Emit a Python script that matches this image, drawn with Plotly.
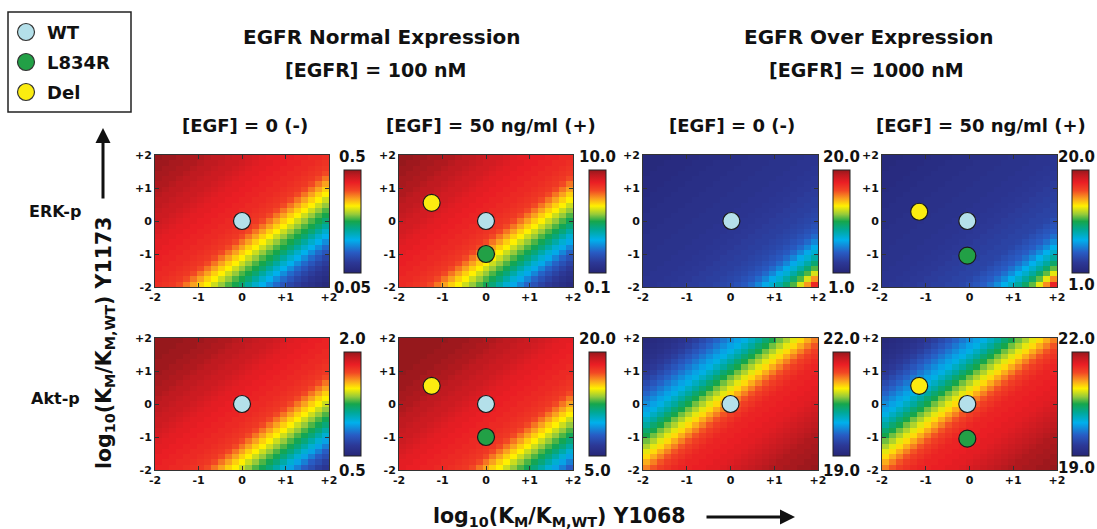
import plotly.graph_objects as go

W, H = 1097, 529
FONT = "DejaVu Sans, Liberation Sans, Arial, sans-serif"

# ---------------- data ----------------
# cell centres of the 25 x 25 parameter grid (log10 KM ratio)
GRID = [-1.92, -1.76, -1.60, -1.44, -1.28, -1.12, -0.96, -0.80, -0.64, -0.48, -0.32, -0.16,
        0.00, 0.16, 0.32, 0.48, 0.64, 0.80, 0.96, 1.12, 1.28, 1.44, 1.60, 1.76, 1.92]
TICK_VALS = [-2, -1, 0, 1, 2]
TICK_TEXT = ["-2", "-1", "0", "+1", "+2"]

# colour level (fraction of colour bar) along the 49 diagonals, from the
# top-left corner (Y1068 low / Y1173 high) to the bottom-right corner
ERK_NORMAL_NOEGF = [1.00, 0.99, 0.99, 0.98, 0.98, 0.97, 0.97, 0.96, 0.95, 0.95, 0.94, 0.93, 0.93,
                    0.92, 0.91, 0.90, 0.89, 0.89, 0.88, 0.88, 0.87, 0.87, 0.86, 0.86, 0.85, 0.84,
                    0.83, 0.80, 0.76, 0.72, 0.68, 0.65, 0.61, 0.57, 0.53, 0.50, 0.46, 0.41, 0.36,
                    0.32, 0.27, 0.22, 0.18, 0.14, 0.11, 0.08, 0.06, 0.04, 0.02]
ERK_NORMAL_EGF = [1.00, 1.00, 0.99, 0.99, 0.98, 0.98, 0.97, 0.97, 0.96, 0.95, 0.95, 0.94, 0.93,
                  0.92, 0.92, 0.91, 0.90, 0.89, 0.89, 0.88, 0.88, 0.87, 0.87, 0.86, 0.86, 0.85,
                  0.84, 0.83, 0.80, 0.76, 0.72, 0.68, 0.65, 0.61, 0.57, 0.53, 0.49, 0.45, 0.40,
                  0.35, 0.31, 0.26, 0.21, 0.17, 0.13, 0.10, 0.07, 0.05, 0.03]
ERK_OVER_NOEGF = [0.02, 0.02, 0.02, 0.02, 0.03, 0.03, 0.03, 0.03, 0.04, 0.04, 0.04, 0.05, 0.05,
                  0.05, 0.05, 0.06, 0.06, 0.06, 0.06, 0.07, 0.07, 0.07, 0.07, 0.08, 0.08, 0.08,
                  0.09, 0.09, 0.10, 0.10, 0.11, 0.11, 0.12, 0.12, 0.13, 0.14, 0.15, 0.17, 0.19,
                  0.22, 0.26, 0.31, 0.35, 0.40, 0.46, 0.53, 0.62, 0.73, 0.86]
ERK_OVER_EGF = [0.02, 0.02, 0.02, 0.03, 0.03, 0.03, 0.03, 0.04, 0.04, 0.04, 0.05, 0.05, 0.05,
                0.05, 0.06, 0.06, 0.06, 0.06, 0.07, 0.07, 0.07, 0.07, 0.08, 0.08, 0.08, 0.09,
                0.09, 0.10, 0.10, 0.11, 0.11, 0.12, 0.12, 0.13, 0.13, 0.14, 0.16, 0.18, 0.20,
                0.23, 0.27, 0.32, 0.36, 0.41, 0.47, 0.54, 0.63, 0.74, 0.87]
AKT_NORMAL_NOEGF = [1.00, 1.00, 1.00, 1.00, 0.99, 0.99, 0.99, 0.98, 0.98, 0.97, 0.97, 0.96, 0.95,
                    0.95, 0.94, 0.93, 0.93, 0.92, 0.91, 0.90, 0.89, 0.89, 0.88, 0.88, 0.87, 0.87,
                    0.86, 0.86, 0.85, 0.84, 0.83, 0.80, 0.76, 0.72, 0.68, 0.65, 0.61, 0.57, 0.53,
                    0.49, 0.45, 0.40, 0.35, 0.30, 0.25, 0.20, 0.16, 0.12, 0.09]
AKT_NORMAL_EGF = [1.00, 1.00, 1.00, 1.00, 1.00, 1.00, 1.00, 0.99, 0.99, 0.99, 0.98, 0.98, 0.97,
                  0.97, 0.96, 0.95, 0.95, 0.94, 0.93, 0.93, 0.92, 0.91, 0.90, 0.89, 0.89, 0.88,
                  0.88, 0.87, 0.87, 0.86, 0.86, 0.85, 0.84, 0.83, 0.80, 0.76, 0.72, 0.68, 0.65,
                  0.61, 0.57, 0.53, 0.49, 0.45, 0.40, 0.35, 0.30, 0.25, 0.20]
AKT_OVER_NOEGF = [0.02, 0.03, 0.04, 0.05, 0.06, 0.08, 0.10, 0.12, 0.15, 0.18, 0.21, 0.24, 0.27,
                  0.30, 0.33, 0.37, 0.41, 0.46, 0.50, 0.55, 0.59, 0.63, 0.67, 0.71, 0.75, 0.79,
                  0.82, 0.84, 0.86, 0.87, 0.87, 0.88, 0.88, 0.89, 0.89, 0.90, 0.91, 0.92, 0.93,
                  0.94, 0.95, 0.96, 0.97, 0.97, 0.98, 0.98, 0.99, 0.99, 1.00]
AKT_OVER_EGF = [0.02, 0.03, 0.04, 0.05, 0.06, 0.08, 0.10, 0.12, 0.15, 0.18, 0.21, 0.24, 0.27,
                0.30, 0.33, 0.37, 0.41, 0.46, 0.50, 0.55, 0.59, 0.63, 0.67, 0.71, 0.75, 0.79,
                0.82, 0.84, 0.86, 0.87, 0.87, 0.88, 0.88, 0.89, 0.89, 0.90, 0.91, 0.92, 0.93,
                0.94, 0.95, 0.96, 0.97, 0.97, 0.98, 0.98, 0.99, 0.99, 1.00]

# colour-bar limits (value at bottom, value at top) and their labels
SCALE_LO = [0.05, 0.1, 1.0, 1.0, 0.5, 5.0, 19.0, 19.0]
SCALE_HI = [0.5, 10.0, 20.0, 20.0, 2.0, 20.0, 22.0, 22.0]
LABEL_LO = ["0.05", "0.1", "1.0", "1.0", "0.5", "5.0", "19.0", "19.0"]
LABEL_HI = ["0.5", "10.0", "20.0", "20.0", "2.0", "20.0", "22.0", "22.0"]

# EGFR variants: (Y1068 ratio, Y1173 ratio) per panel
VARIANTS = ["WT", "L834R", "Del"]
VARIANT_COLORS = {"WT": "#b4e0ea", "L834R": "#22a046", "Del": "#fbec10"}
POINTS = [
    {"WT": (0.0, 0.0)},
    {"Del": (-1.25, 0.55), "WT": (0.0, 0.0), "L834R": (0.0, -1.0)},
    {"WT": (0.02, 0.0)},
    {"Del": (-1.15, 0.28), "WT": (-0.05, 0.0), "L834R": (-0.05, -1.05)},
    {"WT": (0.0, 0.0)},
    {"Del": (-1.25, 0.55), "WT": (0.0, 0.0), "L834R": (0.0, -1.0)},
    {"WT": (0.0, 0.0)},
    {"Del": (-1.15, 0.55), "WT": (-0.05, 0.0), "L834R": (-0.05, -1.05)},
]
PROFILES = [ERK_NORMAL_NOEGF, ERK_NORMAL_EGF, ERK_OVER_NOEGF, ERK_OVER_EGF,
            AKT_NORMAL_NOEGF, AKT_NORMAL_EGF, AKT_OVER_NOEGF, AKT_OVER_EGF]

# ---------------- styling / geometry (pixels) ----------------
CS = [[0.00, "rgb(38,38,118)"], [0.10, "rgb(44,56,150)"], [0.20, "rgb(40,92,196)"],
      [0.32, "rgb(0,176,236)"], [0.42, "rgb(0,168,150)"], [0.50, "rgb(22,166,76)"],
      [0.57, "rgb(150,202,58)"], [0.65, "rgb(255,240,0)"], [0.72, "rgb(250,162,30)"],
      [0.80, "rgb(242,72,36)"], [0.88, "rgb(234,30,36)"], [0.95, "rgb(192,26,32)"],
      [1.00, "rgb(150,24,28)"]]
PANEL_X = [(155, 329), (399, 573), (643, 818), (882, 1057)]
ROW_Y = [(155, 287), (338, 470)]
CBAR_X = [344, 589, 833, 1072]
CBAR_Y = [(170, 273), (352, 456)]


def px(x):
    return x / W


def py(y):
    return 1 - y / H


fig = go.Figure()
layout = {}
annotations = []
shapes = []


def text(x, y, s, size, anchor="center", angle=0):
    annotations.append(dict(x=px(x), y=py(y), xref="paper", yref="paper", text=s,
                            showarrow=False, xanchor=anchor, yanchor="middle", textangle=angle,
                            font=dict(size=size, family=FONT, color="#111", weight="bold")))


for i in range(8):
    r, c = divmod(i, 4)
    n = i + 1
    xa = "x" if n == 1 else f"x{n}"
    ya = "y" if n == 1 else f"y{n}"
    lo, hi = SCALE_LO[i], SCALE_HI[i]
    prof = PROFILES[i]
    z = [[lo + (hi - lo) * prof[ci - ri + 24] for ci in range(25)] for ri in range(25)]
    fig.add_trace(go.Heatmap(
        x=GRID, y=GRID, z=z, zmin=lo, zmax=hi, colorscale=CS, zsmooth=False,
        xaxis=xa, yaxis=ya, hoverinfo="skip",
        colorbar=dict(x=px(CBAR_X[c]), xanchor="left", xpad=0, ypad=0,
                      y=py(CBAR_Y[r][0]), yanchor="top",
                      len=CBAR_Y[r][1] - CBAR_Y[r][0], lenmode="pixels",
                      thickness=17, thicknessmode="pixels",
                      outlinewidth=1, outlinecolor="#222",
                      showticklabels=False, ticks="")))
    for v in ["Del", "WT", "L834R"]:
        if v in POINTS[i]:
            vx, vy = POINTS[i][v]
            fig.add_trace(go.Scatter(
                x=[vx], y=[vy], mode="markers", xaxis=xa, yaxis=ya, showlegend=False,
                hoverinfo="skip",
                marker=dict(size=17, color=VARIANT_COLORS[v],
                            line=dict(width=1.2, color="#1a1a1a"))))
    ax_common = dict(range=[-2, 2], tickvals=TICK_VALS, ticktext=TICK_TEXT, ticks="inside",
                     ticklen=4, tickcolor="#333", showline=True, mirror="ticks",
                     linecolor="#333", linewidth=1, showgrid=False, zeroline=False,
                     fixedrange=True,
                     tickfont=dict(size=11, family=FONT, color="#111", weight="bold"))
    x0, x1 = PANEL_X[c]
    y0, y1 = ROW_Y[r]
    layout["xaxis" if n == 1 else f"xaxis{n}"] = dict(domain=[px(x0), px(x1)], anchor=ya, **ax_common)
    layout["yaxis" if n == 1 else f"yaxis{n}"] = dict(domain=[py(y1), py(y0)], anchor=xa, **ax_common)
    if c == 3:
        cx, anc, dy = 1097, "right", -3
    else:
        cx, anc, dy = CBAR_X[c] + 8.5, "center", 0
    text(cx, CBAR_Y[r][0] - 13, LABEL_HI[i], 15, anchor=anc)
    text(cx, CBAR_Y[r][1] + 15 + dy, LABEL_LO[i], 15, anchor=anc)


# titles
text(382, 37, "EGFR Normal Expression", 20)
text(375, 70, "[EGFR] = 100 nM", 19)
text(868, 37, "EGFR Over Expression", 20)
text(867, 70, "[EGFR] = 1000 nM", 19)
for cxp, s in zip([245, 491, 732, 981],
                  ["[EGF] = 0 (-)", "[EGF] = 50 ng/ml (+)", "[EGF] = 0 (-)", "[EGF] = 50 ng/ml (+)"]):
    text(cxp, 125, s, 18)
text(55, 211, "ERK-p", 16)
text(55, 398, "Akt-p", 16)
text(105, 343, "log<sub>10</sub>(K<sub>M</sub>/K<sub>M,WT</sub>) Y1173", 20.5, angle=-90)
text(559, 517, "log<sub>10</sub>(K<sub>M</sub>/K<sub>M,WT</sub>) Y1068", 20.5)

# arrows
annotations.append(dict(x=px(103), y=py(128), xref="paper", yref="paper", ax=0, ay=72,
                        text="", showarrow=True,
                        arrowhead=2, arrowsize=1, arrowwidth=3, arrowcolor="#111"))
annotations.append(dict(x=px(795), y=py(517), xref="paper", yref="paper", ax=-90, ay=0,
                        text="", showarrow=True,
                        arrowhead=2, arrowsize=1, arrowwidth=3, arrowcolor="#111"))

# legend box
shapes.append(dict(type="rect", xref="paper", yref="paper", x0=px(8), x1=px(131),
                   y0=py(112), y1=py(12), line=dict(color="#222", width=1.5)))
for k, v in enumerate(VARIANTS):
    yy = 32 + 30 * k
    shapes.append(dict(type="circle", xref="paper", yref="paper",
                       x0=px(26 - 8.5), x1=px(26 + 8.5), y0=py(yy + 8.5), y1=py(yy - 8.5),
                       fillcolor=VARIANT_COLORS[v], line=dict(color="#333", width=1.2)))
    text(45, yy, v, 18, anchor="left")

fig.update_layout(width=W, height=H,
                  margin=dict(l=0, r=0, t=0, b=0, pad=0, autoexpand=False),
                  paper_bgcolor="white", plot_bgcolor="white", showlegend=False,
                  annotations=annotations, shapes=shapes, **layout)
fig.write_html("out.html", config={"displayModeBar": False, "staticPlot": True},
               post_script="document.body.style.margin='0';document.body.style.overflow='hidden';")
